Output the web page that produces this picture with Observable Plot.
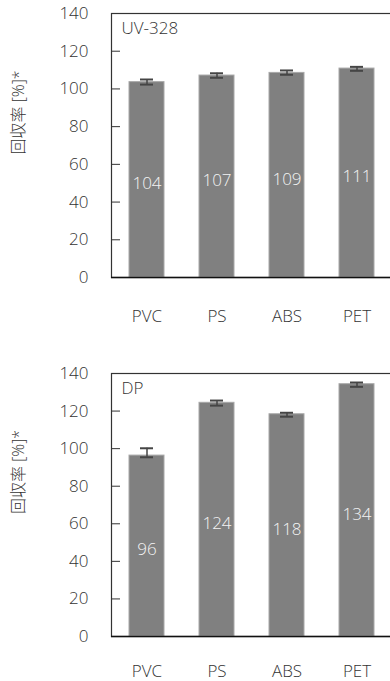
<!DOCTYPE html>
<html>
<head>
<meta charset="utf-8">
<script src="https://cdn.jsdelivr.net/npm/d3@7"></script>
<script src="https://cdn.jsdelivr.net/npm/@observablehq/plot@0.6"></script>
<style>
  html, body { margin: 0; padding: 0; background: #fff; overflow: hidden; }
  #charts svg { display: block; }
</style>
</head>
<body>
<div id="charts"></div>
<script>
const categories = ["PVC", "PS", "ABS", "PET"];
const yTicks = [0, 20, 40, 60, 80, 100, 120, 140];
const innerTicks = [20, 40, 60, 80, 100, 120];
const yTitle = "回収率 [%]*";

const uvName = "UV-328";
const uvValues = [103.6, 107.1, 108.5, 110.8];
const uvLow = [102.3, 105.9, 107.5, 109.6];
const uvHigh = [105.0, 108.3, 109.8, 111.7];
const uvLabels = ["104", "107", "109", "111"];

const dpName = "DP";
const dpValues = [96.3, 124.4, 118.3, 134.3];
const dpLow = [95.4, 122.9, 117.0, 132.9];
const dpHigh = [100.2, 125.6, 119.1, 135.2];
const dpLabels = ["96", "124", "118", "134"];

const FONT = '"Open Sans","Noto Sans CJK JP",sans-serif';

function panel(name, values, low, high, labels, height, marginTop, marginBottom, xPad) {
  const data = categories.map((c, i) => ({cat: c, v: values[i], lo: low[i], hi: high[i], label: labels[i]}));
  return Plot.plot({
    width: 390,
    height,
    marginLeft: 111,
    marginRight: -2,
    marginTop,
    marginBottom,
    style: {fontFamily: FONT, fontSize: "17px", fontWeight: 300, color: "#333", background: "#fff"},
    x: {domain: categories, range: [111, 391], paddingInner: 0.5, paddingOuter: 0.25, axis: null},
    y: {domain: [0, 140], axis: null},
    marks: [
      Plot.barY(data, {x: "cat", y: "v", fill: "#808080", stroke: "#a8a8a8", strokeWidth: 1}),
      Plot.ruleX(data, {x: "cat", y1: "lo", y2: "hi", stroke: "#454545", strokeWidth: 1.5}),
      Plot.tickY(data, {x: "cat", y: "lo", stroke: "#454545", strokeWidth: 2, insetLeft: 11, insetRight: 11}),
      Plot.tickY(data, {x: "cat", y: "hi", stroke: "#454545", strokeWidth: 2, insetLeft: 11, insetRight: 11}),
      Plot.text(data, {x: "cat", y: d => d.v / 2, text: "label", fill: "#f4f4f4", fontSize: 17, dy: 4}),
      Plot.tickY(innerTicks, {y: d => d, stroke: "#333", strokeWidth: 1, insetRight: 272}),
      Plot.frame({stroke: "#333", strokeWidth: 1.2}),
      Plot.ruleY([0], {stroke: "#111", strokeWidth: 1.6}),
      Plot.axisY(yTicks, {tickSize: 0, tickPadding: 23, fontSize: 17, label: null, fill: "#333"}),
      Plot.axisX({tickSize: 0, tickPadding: xPad, fontSize: 17, label: null, fill: "#333"}),
      Plot.text([name], {frameAnchor: "top-left", textAnchor: "start", lineAnchor: "top", dx: 10, dy: 8, fontSize: 17, fill: "#333"}),
      Plot.text([yTitle], {frameAnchor: "left", rotate: -90, dx: -93, dy: 9, fontSize: 16, fill: "#333"})
    ]
  });
}

const root = document.getElementById("charts");
root.appendChild(panel(uvName, uvValues, uvLow, uvHigh, uvLabels, 340, 13, 63, 32));
root.appendChild(panel(dpName, dpValues, dpLow, dpHigh, dpLabels, 341, 33, 45, 28));
</script>
</body>
</html>
